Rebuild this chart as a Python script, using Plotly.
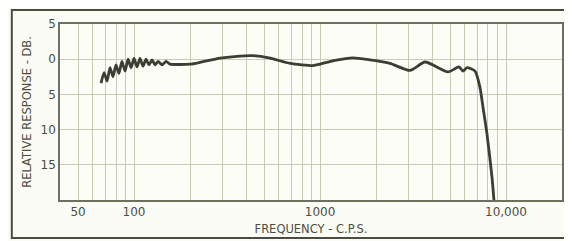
import plotly.graph_objects as go

# Frequency response data (Hz, dB below reference; positive = down)
freq_hz = [66.5, 69.0, 71.6, 74.3, 77.1, 80.0, 83.0, 86.1, 89.5, 92.9, 96.4, 100,
           103.8, 107.7, 111.8, 116, 120.4, 125, 129.7, 134.6, 141.5, 148.7, 156.2,
           176.8, 200, 226, 290, 371, 436, 539, 690, 916, 1000, 1205, 1504, 1858,
           2378, 3047, 3672, 4878, 5587, 5873, 6170, 6812, 7244, 7518, 7900, 8410, 8610]
resp_db = [3.4, 1.9, 3.1, 1.2, 2.5, 0.8, 2.0, 0.3, 1.7, 0.0, 1.2, -0.1,
           1.1, -0.1, 1.0, 0.0, 0.8, 0.1, 0.8, 0.3, 0.8, 0.3, 0.7,
           0.75, 0.7, 0.45, -0.15, -0.45, -0.5, -0.15, 0.6, 0.9, 0.7, 0.15, -0.2, 0.1,
           0.6, 1.6, 0.4, 1.8, 1.1, 1.7, 1.2, 1.7, 4.0, 6.8, 10.6, 16.8, 20.0]

x_grid = [50, 60, 70, 80, 90, 100, 200, 300, 400, 500, 600, 700, 800, 900,
          1000, 2000, 3000, 4000, 5000, 6000, 7000, 8000, 9000, 10000]
x_labels = {50: "50", 100: "100", 1000: "1000", 10000: "10,000"}
y_ticks = [-5, 0, 5, 10, 15]
y_labels = ["5", "0", "5", "10", "15"]

ink = "#3b3e31"
grid = "#c9cbb6"
frame = "#6e705f"
txt = "#4c4e3c"

fig = go.Figure()
fig.add_trace(go.Scatter(x=freq_hz, y=resp_db, mode="lines",
                         line=dict(color=ink, width=2.8, shape="spline", smoothing=0.6),
                         hoverinfo="skip", showlegend=False))

fig.update_xaxes(type="log", range=[1.602, 4.301], automargin=False,
                 tickvals=x_grid, ticktext=[x_labels.get(v, "") for v in x_grid],
                 showgrid=True, gridcolor=grid, gridwidth=1.2,
                 showline=True, linecolor=frame, linewidth=1.5, mirror=True,
                 ticks="", zeroline=False,
                 tickfont=dict(family="DejaVu Sans", size=12, color=txt),
                 title=dict(text="FREQUENCY - C.P.S.", standoff=7,
                            font=dict(family="DejaVu Sans", size=11.5, color=txt)))
fig.update_yaxes(range=[20, -5], tickvals=y_ticks, ticktext=y_labels, automargin=False,
                 showgrid=True, gridcolor=grid, gridwidth=1.2,
                 showline=True, linecolor=frame, linewidth=1.5, mirror=True,
                 ticks="", zeroline=False,
                 tickfont=dict(family="DejaVu Sans", size=12, color=txt),
                 title=dict(text="RELATIVE RESPONSE - DB.", standoff=7,
                            font=dict(family="DejaVu Sans", size=11.5, color=txt)))

fig.add_shape(type="rect", xref="paper", yref="paper",
              x0=-0.096, x1=1.016, y0=-0.216, y1=1.08,
              line=dict(color="#4a4c3f", width=2))

# page body has an 8px margin, so the figure is sized/offset to compensate
fig.update_layout(width=564, height=233,
                  margin=dict(l=52, r=10, t=16, b=41),
                  paper_bgcolor="#fcfcf7", plot_bgcolor="#fdfdf8")

fig.write_html("out.html")
